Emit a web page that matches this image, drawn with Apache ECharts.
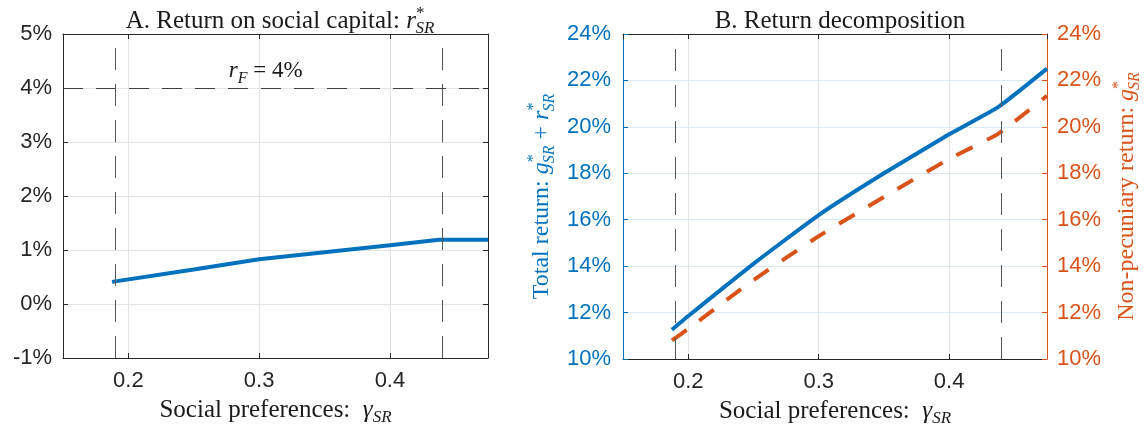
<!DOCTYPE html>
<html>
<head>
<meta charset="utf-8">
<script src="https://cdn.jsdelivr.net/npm/echarts@6/dist/echarts.min.js"></script>
<style>
  html, body { margin: 0; padding: 0; background: #fff; }
  #chart { width: 1146px; height: 432px; }
</style>
</head>
<body>
<div id="chart"></div>
<script>
// panel A: return on social capital (in %)
const gammaA = [0.1875, 0.25, 0.3, 0.35, 0.4, 0.4375, 0.475];
const rSR = [0.41, 0.64, 0.83, 0.96, 1.09, 1.19, 1.19];

// panel B: return decomposition (in %)
const gammaB = [0.1875, 0.2, 0.25, 0.3, 0.35, 0.4, 0.4375, 0.475];
const totalReturn = [11.26, 11.85, 14.1, 16.2, 18.0, 19.68, 20.85, 22.51];
const nonPecuniary = [10.8, 11.3, 13.4, 15.29, 16.98, 18.62, 19.7, 21.34];

// vertical reference lines and risk-free rate
const cutoffs = [0.1875, 0.4375];
const rF = 4;

const yTicksA = { min: -1, max: 5, step: 1 };
const yTicksB = { min: 10, max: 24, step: 2 };

const BLUE = '#0072BD';
const ORANGE = '#D95319';
const AXIS = '#262626';
const SERIF = 'Liberation Serif';
const SANS = 'Liberation Sans';

const chart = echarts.init(document.getElementById('chart'));

const zip = (xs, ys) => xs.map((x, i) => [x, ys[i]]);

const mathRich = (size, color) => {
  const base = { fontFamily: SERIF, fontWeight: 'normal', color };
  const small = Math.round(size * 0.68);
  return {
    t: { ...base, fontSize: size, lineHeight: 32, verticalAlign: 'middle' },
    i: { ...base, fontSize: size, fontStyle: 'italic', lineHeight: 32, verticalAlign: 'middle' },
    sup: { ...base, fontSize: small, lineHeight: 16, verticalAlign: 'top' },
    sub: { ...base, fontSize: small, fontStyle: 'italic', lineHeight: 14, verticalAlign: 'bottom', padding: [0, 0, 0, -9] },
    sub0: { ...base, fontSize: small, fontStyle: 'italic', lineHeight: 14, verticalAlign: 'bottom' },
  };
};

const xBase = {
  type: 'value',
  min: 0.15,
  max: 0.475,
  splitNumber: 3,
  axisLine: { show: true, onZero: false, lineStyle: { color: AXIS } },
  axisTick: { show: true, inside: true, length: 5, lineStyle: { color: AXIS } },
};

const xName = {
  name: '{t|Social preferences:  }{i|γ}{sub0|SR}',
  nameLocation: 'middle',
  nameGap: 36,
  nameTextStyle: { rich: mathRich(25, '#1a1a1a') },
};

const xLabel = {
  fontFamily: SANS, fontSize: 22, color: AXIS, margin: 12,
  showMinLabel: false, showMaxLabel: false,
};

const vLines = (color) => ({
  silent: true,
  symbol: 'none',
  label: { show: false },
  lineStyle: { color, type: [22, 14], width: 1 },
  data: cutoffs.map((v) => ({ xAxis: v })),
});

const option = {
  animation: false,
  title: [
    {
      text: '{t|A. Return on social capital: }{i|r}{sup|*}{sub|SR}',
      left: 275,
      top: 0,
      textAlign: 'center',
      textStyle: { fontWeight: 'normal', rich: mathRich(25, '#1a1a1a') },
    },
    {
      text: '{t|B. Return decomposition}',
      left: 835,
      top: 0,
      textAlign: 'center',
      textStyle: { fontWeight: 'normal', rich: mathRich(25, '#1a1a1a') },
    },
  ],
  grid: [
    { left: 63, right: 658, top: 34, bottom: 74, outerBoundsMode: 'none' },
    { left: 623, right: 99, top: 34, bottom: 73, outerBoundsMode: 'none' },
  ],
  xAxis: [
    {
      ...xBase, ...xName, gridIndex: 0, position: 'bottom',
      axisLabel: xLabel,
      splitLine: { show: true, lineStyle: { color: '#e3e3e3' } },
    },
    {
      ...xBase, gridIndex: 0, position: 'top',
      axisLabel: { show: false }, splitLine: { show: false },
    },
    {
      ...xBase, ...xName, gridIndex: 1, position: 'bottom',
      axisLabel: xLabel,
      splitLine: { show: true, lineStyle: { color: '#e3e3e3' } },
    },
    {
      ...xBase, gridIndex: 1, position: 'top',
      axisLabel: { show: false }, splitLine: { show: false },
    },
  ],
  yAxis: [
    {
      type: 'value', gridIndex: 0, position: 'left',
      min: yTicksA.min, max: yTicksA.max, interval: yTicksA.step,
      axisLine: { show: true, onZero: false, lineStyle: { color: AXIS } },
      axisTick: { show: true, inside: true, length: 5, lineStyle: { color: AXIS } },
      axisLabel: { fontFamily: SANS, fontSize: 22, color: AXIS, margin: 11, formatter: (v) => v + '%' },
      splitLine: { show: true, lineStyle: { color: '#e3e3e3' } },
    },
    {
      type: 'value', gridIndex: 0, position: 'right',
      min: yTicksA.min, max: yTicksA.max, interval: yTicksA.step,
      axisLine: { show: true, onZero: false, lineStyle: { color: AXIS } },
      axisTick: { show: true, inside: true, length: 5, lineStyle: { color: AXIS } },
      axisLabel: { show: false },
      splitLine: { show: false },
    },
    {
      type: 'value', gridIndex: 1, position: 'left',
      min: yTicksB.min, max: yTicksB.max, interval: yTicksB.step,
      axisLine: { show: true, onZero: false, lineStyle: { color: BLUE } },
      axisTick: { show: true, inside: true, length: 5, lineStyle: { color: BLUE } },
      axisLabel: { fontFamily: SANS, fontSize: 22, color: BLUE, margin: 12, formatter: (v) => v + '%' },
      splitLine: { show: true, lineStyle: { color: '#d9eaf5' } },
      name: '{t|Total return: }{i|g}{sup|*}{sub|SR}{t| + }{i|r}{sup|*}{sub|SR}',
      nameLocation: 'middle',
      nameRotate: 90,
      nameGap: 65,
      nameTextStyle: { rich: mathRich(24, BLUE) },
    },
    {
      type: 'value', gridIndex: 1, position: 'right',
      min: yTicksB.min, max: yTicksB.max, interval: yTicksB.step,
      axisLine: { show: true, onZero: false, lineStyle: { color: ORANGE } },
      axisTick: { show: true, inside: true, length: 5, lineStyle: { color: ORANGE } },
      axisLabel: { fontFamily: SANS, fontSize: 22, color: ORANGE, margin: 10, formatter: (v) => v + '%' },
      splitLine: { show: false },
      name: '{t|Non-pecuniary return: }{i|g}{sup|*}{sub|SR}',
      nameLocation: 'middle',
      nameRotate: 90,
      nameGap: 64,
      nameTextStyle: { rich: mathRich(24, ORANGE) },
    },
  ],
  series: [
    {
      type: 'line',
      xAxisIndex: 0,
      yAxisIndex: 0,
      data: zip(gammaA, rSR),
      showSymbol: false,
      lineStyle: { color: BLUE, width: 4 },
      z: 3,
      markLine: {
        silent: true,
        symbol: 'none',
        lineStyle: { color: '#404040', type: [20, 13], width: 1 },
        data: [
          { yAxis: rF, label: { show: false } },
          ...cutoffs.map((v) => ({ xAxis: v, label: { show: false }, lineStyle: { color: '#555', type: [22, 14], width: 1 } })),
        ],
      },
      markPoint: {
        silent: true,
        symbol: 'circle',
        symbolSize: 0,
        itemStyle: { color: 'rgba(0,0,0,0)' },
        label: {
          show: true,
          position: 'inside',
          formatter: '{i|r}{sub0|F}{t| = 4%}',
          rich: mathRich(23, '#1a1a1a'),
        },
        data: [{ coord: [0.305, 4.32] }],
      },
    },
    {
      type: 'line',
      xAxisIndex: 2,
      yAxisIndex: 2,
      data: zip(gammaB, totalReturn),
      showSymbol: false,
      smooth: 0.15,
      lineStyle: { color: BLUE, width: 4 },
      z: 3,
      markLine: vLines('#555'),
    },
    {
      type: 'line',
      xAxisIndex: 2,
      yAxisIndex: 3,
      data: zip(gammaB, nonPecuniary),
      showSymbol: false,
      smooth: 0.15,
      lineStyle: { color: ORANGE, width: 4, type: [18, 16] },
      z: 3,
    },
  ],
};

chart.setOption(option);
window.addEventListener('resize', () => chart.resize());
</script>
</body>
</html>
